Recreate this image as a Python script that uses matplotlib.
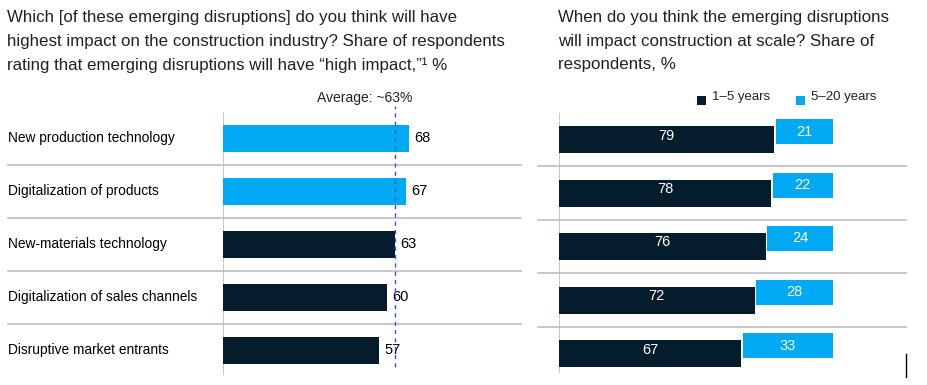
import matplotlib
matplotlib.use("Agg")
import matplotlib.pyplot as plt
from matplotlib.patches import Rectangle
from matplotlib.lines import Line2D

plt.rcParams['font.family'] = ['Liberation Sans', 'DejaVu Sans']

categories = ["New production technology", "Digitalization of products",
              "New-materials technology", "Digitalization of sales channels",
              "Disruptive market entrants"]
impact = [68, 67, 63, 60, 57]
highlight = [True, True, False, False, False]
average = 63
short_term = [79, 78, 76, 72, 67]
long_term = [21, 22, 24, 28, 33]

left_title = ("Which [of these emerging disruptions] do you think will have\n"
              "highest impact on the construction industry? Share of respondents\n"
              "rating that emerging disruptions will have \u201chigh impact,\u201d\u00b9 %")
right_title = ("When do you think the emerging disruptions\n"
               "will impact construction at scale? Share of\n"
               "respondents, %")
legend_labels = ["1\u20135 years", "5\u201320 years"]
avg_label = "Average: ~63%"

DARK = "#051C2C"
BLUE = "#00A9F4"
GRID = "#BDBDBD"

W, H = 927, 385
fig = plt.figure(figsize=(W / 100, H / 100), dpi=100)

def fx(px):
    return px / W

def fy(py):
    return 1 - py / H

# ---------- left panel ----------
lx0, lx1, ly0, ly1 = 223, 521, 111.7, 375
axL = fig.add_axes([fx(lx0), fy(ly1), fx(lx1 - lx0), (ly1 - ly0) / H])
scaleL = 2.73
axL.set_xlim(0, (lx1 - lx0) / scaleL)
c0, sp = 138, 53.1
axL.set_ylim((ly1 - c0) / sp, (ly0 - c0) / sp)
ypos = list(range(len(categories)))
colors = [BLUE if h else DARK for h in highlight]
axL.barh(ypos, impact, height=27 / sp, color=colors, zorder=2)
for y, v in zip(ypos, impact):
    axL.text(v + 2.0, y, str(v), va='center', ha='left', fontsize=10.5, color='black')
for y, c in zip(ypos, categories):
    axL.text(-(lx0 - 8) / scaleL, y, c, va='center', ha='left', fontsize=9.9, color='black')
for i in range(len(categories) - 1):
    axL.axhline(i + 0.5, xmin=-(lx0 - 8) / (lx1 - lx0), xmax=1, color=GRID, lw=1.2,
                clip_on=False, zorder=1)
axL.axvline(average, ymin=0.03, ymax=1.02, color="#3355DD", lw=1, ls=(0, (3, 3)),
            clip_on=False, zorder=3)
axL.axis('off')
axL.plot([0, 0], [(ly1 - c0) / sp, (ly0 - c0) / sp], color=GRID, lw=1.2, zorder=1)

# ---------- right panel ----------
rx0, rx1, ry0, ry1 = 558.5, 906, 113, 372.7
axR = fig.add_axes([fx(rx0), fy(ry1), fx(rx1 - rx0), (ry1 - ry0) / H])
scaleR = 2.73
axR.set_xlim(0, (rx1 - rx0) / scaleR)
rc0, rsp = 139.5, 53.5
axR.set_ylim((ry1 - rc0) / rsp, (ry0 - rc0) / rsp)
axR.barh(ypos, short_term, height=27 / rsp, color=DARK, zorder=2)
boff = -8 / rsp
yb = [y + boff for y in ypos]
axR.barh(yb, long_term, left=[s + 0.5 for s in short_term], height=25 / rsp,
         color=BLUE, zorder=2)
for y, s, l in zip(ypos, short_term, long_term):
    axR.text(s / 2, y - 4 / rsp, str(s), va='center', ha='center', fontsize=10.5, color='white')
    axR.text(s + 0.5 + l / 2, y + boff, str(l), va='center', ha='center', fontsize=10.5,
             color='white')
for i in range(len(categories) - 1):
    axR.axhline(i + 0.5, xmin=-(rx0 - 538) / (rx1 - rx0), xmax=1, color=GRID, lw=1.2,
                clip_on=False, zorder=1)
axR.axis('off')
axR.plot([0, 0], [(ry1 - rc0) / rsp, (ry0 - rc0) / rsp], color=GRID, lw=1.2, zorder=1)

# ---------- titles, legend ----------
fig.text(fx(7), fy(10), left_title, ha='left', va='top', fontsize=12.2, linespacing=1.72,
         color='#222222')
fig.text(fx(558), fy(10), right_title, ha='left', va='top', fontsize=12.2, linespacing=1.72,
         color='#222222')
fig.text(fx(412), fy(98), avg_label, ha='right', va='center', fontsize=10, color='#222222')

for xs, col, lab in [(697, DARK, legend_labels[0]), (796, BLUE, legend_labels[1])]:
    fig.patches.append(Rectangle((fx(xs), fy(105)), 9 / W, 9 / H, transform=fig.transFigure,
                                 facecolor=col, edgecolor='none'))
    fig.text(fx(xs + 15), fy(97), lab, ha='left', va='center', fontsize=9.5, color='#222222')

fig.lines.append(Line2D([fx(905.7), fx(905.7)], [fy(354), fy(377)], transform=fig.transFigure,
                        color='black', lw=1))

fig.savefig("out.png", dpi=100)
